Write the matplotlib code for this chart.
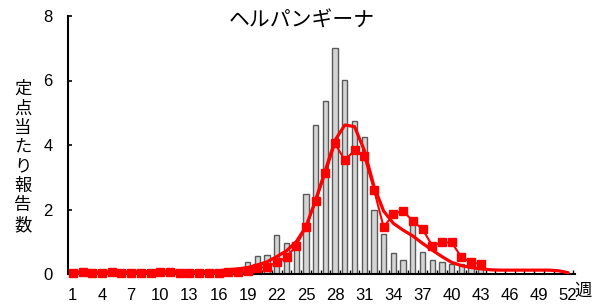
import numpy as np
import matplotlib
matplotlib.use("Agg")
import matplotlib.pyplot as plt

plt.rcParams['font.family'] = ['Liberation Sans', 'Noto Sans CJK JP']

weeks = np.arange(1, 53)

# 棒グラフ (1〜43週)
bar_vals = [0.03, 0.03, 0.02, 0.03, 0.02, 0.02, 0.03, 0.03, 0.04, 0.04,
            0.04, 0.03, 0.03, 0.04, 0.05, 0.06, 0.08, 0.18, 0.36, 0.56,
            0.58, 1.20, 0.95, 0.95, 2.47, 4.61, 5.37, 7.00, 6.02, 4.75,
            4.26, 2.00, 1.25, 0.64, 0.43, 1.60, 0.69, 0.43, 0.36, 0.32,
            0.30, 0.28, 0.22]

# 四角マーカー付き折れ線 (1〜43週)
line_vals = [0.04, 0.05, 0.04, 0.03, 0.05, 0.03, 0.03, 0.03, 0.04, 0.05,
             0.05, 0.04, 0.03, 0.04, 0.04, 0.04, 0.05, 0.06, 0.08, 0.18,
             0.23, 0.36, 0.52, 0.88, 1.45, 2.25, 3.12, 4.05, 3.52, 3.84,
             3.65, 2.62, 1.45, 1.86, 1.96, 1.64, 1.39, 0.88, 0.98, 0.98,
             0.52, 0.36, 0.31]

# 平滑線 (1〜52週)
avg_vals = [0.04, 0.05, 0.05, 0.05, 0.05, 0.05, 0.05, 0.06, 0.07, 0.08,
            0.09, 0.08, 0.06, 0.06, 0.07, 0.10, 0.13, 0.16, 0.20, 0.28,
            0.38, 0.54, 0.72, 1.00, 1.47, 2.30, 3.22, 4.15, 4.62, 4.57,
            3.84, 2.72, 1.95, 1.57, 1.36, 1.18, 0.95, 0.74, 0.54, 0.36,
            0.26, 0.20, 0.16, 0.13, 0.12, 0.12, 0.12, 0.12, 0.12, 0.12,
            0.10, 0.04]

tick_weeks = list(range(1, 53, 3))
ylabel_chars = "定点当たり報告数"

fig = plt.figure(figsize=(5.93, 3.04), dpi=100)
ax = fig.add_axes([68 / 593, 30 / 304, 507 / 593, 258 / 304])

n_bar = len(bar_vals)
ax.bar(weeks[:n_bar], bar_vals, width=0.55, color='#d4d4d4',
       edgecolor='#5a5a5a', linewidth=1.0, zorder=2)
ax.plot(weeks, avg_vals, color='#ff0000', linewidth=2.3, zorder=3,
        clip_on=False, solid_capstyle='round')
ax.plot(weeks[:len(line_vals)], line_vals, color='#ff0000', linewidth=1.5,
        marker='s', markersize=6, zorder=4, clip_on=False)

ax.set_xlim(0.6, 52.7)
ax.set_ylim(0, 8)
ax.set_yticks([0, 2, 4, 6, 8])
ax.set_xticks(tick_weeks)
ax.set_xticks(np.arange(0.5, 53, 1), minor=True)
ax.tick_params(axis='x', which='major', length=0, pad=10, labelsize=12)
ax.tick_params(axis='x', which='minor', direction='in', length=3, width=1)
ax.tick_params(axis='y', direction='in', length=3, width=1.2, pad=11,
               labelsize=12)

for s in ['top', 'right']:
    ax.spines[s].set_visible(False)
for s in ['left', 'bottom']:
    ax.spines[s].set_linewidth(1.5)

fig.text(302 / 593, 1 - 21.5 / 304, "ヘルパンギーナ", ha='center',
         va='center', fontsize=15)
fig.text(583 / 593, 1 - 291 / 304, "週", ha='center', va='center',
         fontsize=12.5)
for i, ch in enumerate(ylabel_chars):
    fig.text(23 / 593, 1 - (89 + i * 19.4) / 304, ch, ha='center',
             va='center', fontsize=12.5)

fig.savefig("out.png", dpi=100)
